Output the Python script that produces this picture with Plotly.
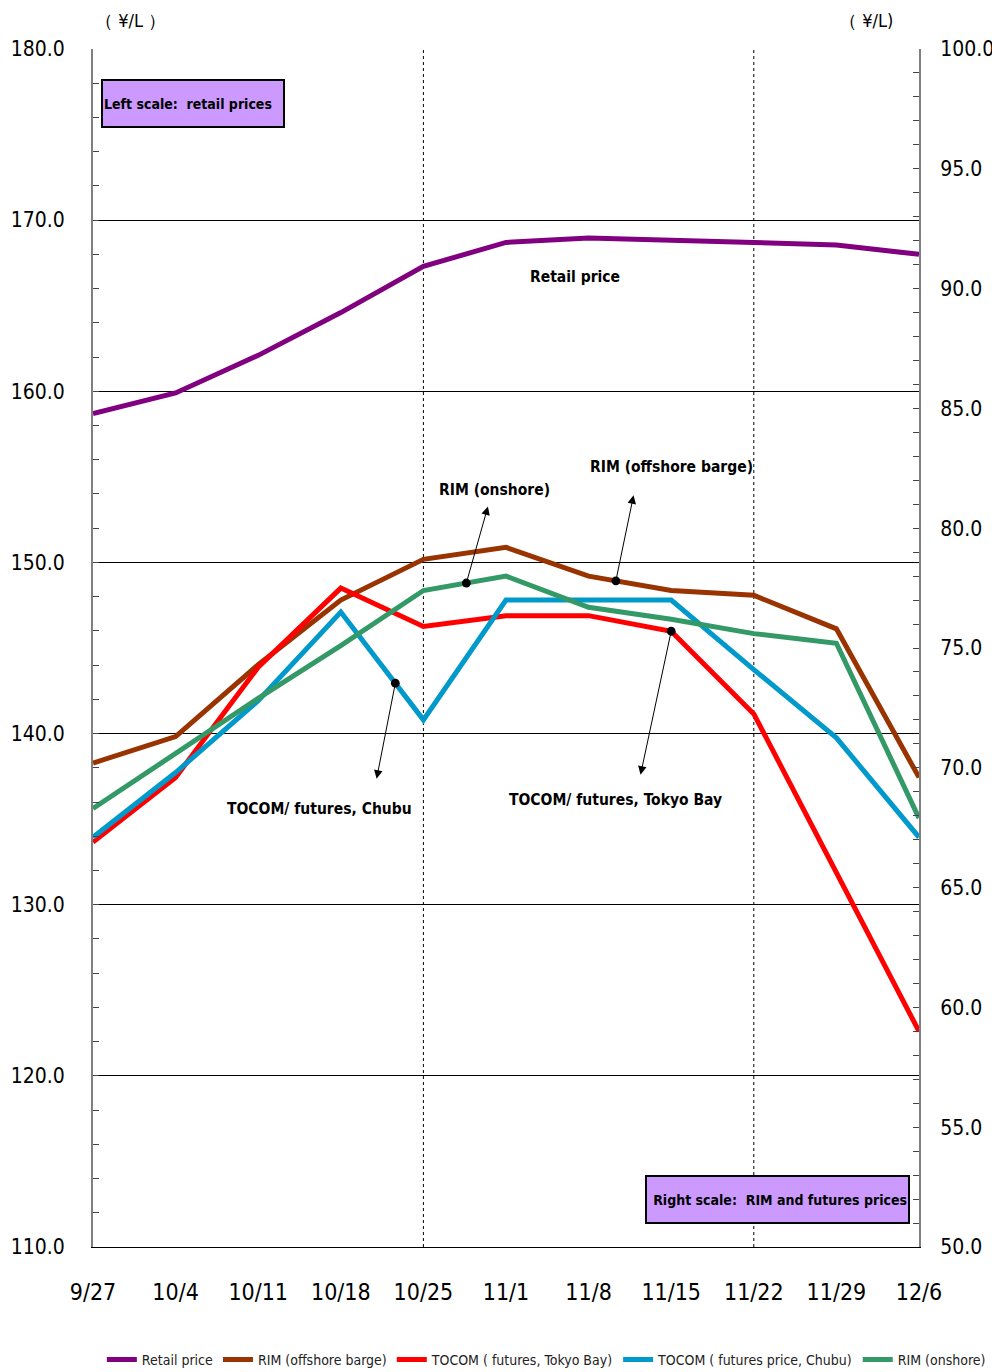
import plotly.graph_objects as go
import numpy as np

dates = ["9/27", "10/4", "10/11", "10/18", "10/25", "11/1", "11/8", "11/15", "11/22", "11/29", "12/6"]

retail = [158.7, 159.9, 162.1, 164.6, 167.3, 168.7, 168.95, 168.85, 168.7, 168.55, 168.0]
rim_offshore = [70.2, 71.3, 74.3, 77.0, 78.7, 79.2, 78.0, 77.4, 77.2, 75.8, 69.6]
tocom_tokyo = [66.9, 69.6, 74.2, 77.5, 75.9, 76.35, 76.35, 75.7, 72.25, 65.6, 59.0]
tocom_chubu = [67.1, 69.8, 72.8, 76.5, 72.0, 77.0, 77.0, 77.0, 74.1, 71.25, 67.1]
rim_onshore = [68.3, 70.6, 72.9, 75.1, 77.4, 78.0, 76.7, 76.2, 75.6, 75.2, 67.9]

vgrid_dates = ["10/25", "11/22"]

NARROW = "DejaVu Sans Condensed, Liberation Sans Narrow, Roboto, sans-serif"

fig = go.Figure()
fig.add_trace(go.Scatter(x=dates, y=retail, name="Retail price", mode="lines",
                         line=dict(color="#800080", width=5), yaxis="y"))
fig.add_trace(go.Scatter(x=dates, y=rim_offshore, name="RIM (offshore barge)", mode="lines",
                         line=dict(color="#993300", width=5), yaxis="y2"))
fig.add_trace(go.Scatter(x=dates, y=tocom_tokyo, name="TOCOM ( futures, Tokyo Bay)", mode="lines",
                         line=dict(color="#FF0000", width=5), yaxis="y2"))
fig.add_trace(go.Scatter(x=dates, y=tocom_chubu, name="TOCOM ( futures price, Chubu)", mode="lines",
                         line=dict(color="#0099CC", width=5), yaxis="y2"))
fig.add_trace(go.Scatter(x=dates, y=rim_onshore, name="RIM (onshore)", mode="lines",
                         line=dict(color="#339966", width=5), yaxis="y2"))

for d in vgrid_dates:
    fig.add_shape(type="line", xref="x", yref="paper", x0=d, x1=d, y0=0, y1=1,
                  line=dict(color="black", width=1, dash="dot"), layer="below")

def interp(series, t):
    return float(np.interp(t, np.arange(len(series)), series))

# arrows: (series, position index, dx, dy)
arrows = [
    (rim_onshore, 4.52, 22, -78),
    (rim_offshore, 6.33, 18, -87),
    (tocom_chubu, 3.66, -19, 97),
    (tocom_tokyo, 7.0, -31, 145),
]
for s, t, dx, dy in arrows:
    fig.add_annotation(x=t, y=interp(s, t), xref="x", yref="y2", text="",
                       showarrow=True, ax=dx, ay=dy, arrowside="end+start",
                       arrowhead=6, arrowsize=2.2, startarrowhead=2, startarrowsize=1.7,
                       arrowwidth=1, arrowcolor="black", standoff=0, startstandoff=0)

labels = [
    ("Retail price", 0.5835, 0.8097),
    ("RIM (onshore)", 0.4855, 0.6319),
    ("RIM (offshore barge)", 0.6998, 0.6511),
    ("TOCOM/ futures, Chubu", 0.2748, 0.3656),
    ("TOCOM/ futures, Tokyo Bay", 0.6320, 0.3731),
]
for txt, x, y in labels:
    fig.add_annotation(x=x, y=y, xref="paper", yref="paper", text="<b>" + txt + "</b>",
                       showarrow=False, font=dict(family=NARROW, size=15.5, color="black"),
                       xanchor="center", yanchor="middle")

fig.add_annotation(x=0.0097, y=0.975, xref="paper", yref="paper",
                   text="<b>Left scale:  retail prices</b>", showarrow=False,
                   xanchor="left", yanchor="top", align="left", width=178, height=43,
                   bgcolor="#CC99FF", bordercolor="black", borderwidth=2, borderpad=1,
                   font=dict(family=NARROW, size=14, color="black"))
fig.add_annotation(x=0.6683, y=0.0601, xref="paper", yref="paper",
                   text="<b>Right scale:  RIM and futures prices</b>", showarrow=False,
                   xanchor="left", yanchor="top", align="right", width=259, height=43,
                   bgcolor="#CC99FF", bordercolor="black", borderwidth=2, borderpad=1,
                   font=dict(family=NARROW, size=14, color="black"))

fig.add_annotation(x=0.0448, y=1.0234, xref="paper", yref="paper", text="（ ¥/L ）",
                   showarrow=False, xanchor="center", yanchor="middle",
                   font=dict(family=NARROW, size=18, color="black"))
fig.add_annotation(x=0.9358, y=1.0234, xref="paper", yref="paper", text="（ ¥/L)",
                   showarrow=False, xanchor="center", yanchor="middle",
                   font=dict(family=NARROW, size=18, color="black"))

# page body has an 8px margin, so the figure is sized 8px smaller
fig.update_layout(
    width=992, height=1364,
    margin=dict(l=85, r=81, t=41, b=125, autoexpand=False),
    paper_bgcolor="white", plot_bgcolor="white",
    showlegend=True,
    legend=dict(orientation="h", xref="paper", yref="paper", x=1.087, y=-0.0943,
                xanchor="right", yanchor="middle", font=dict(family=NARROW, size=14, color="#222"),
                itemwidth=30, tracegroupgap=0, bgcolor="rgba(0,0,0,0)"),
    xaxis=dict(type="category", range=[0, 10], showgrid=False, ticks="", automargin=False,
               showline=True, linecolor="black", linewidth=1, mirror=False,
               tickfont=dict(family=NARROW, size=23, color="black"), ticklabelstandoff=24,
               zeroline=False),
    yaxis=dict(range=[110, 180], dtick=10, tickformat=".1f", showgrid=True, gridcolor="black",
               gridwidth=1, ticks="inside", ticklen=6, tickcolor="#444", showline=True,
               linecolor="#808080", linewidth=2, automargin=False,
               minor=dict(dtick=2, ticks="inside", ticklen=6, tickcolor="#444", showgrid=False),
               tickfont=dict(family=NARROW, size=21, color="black"), ticklabelstandoff=22,
               zeroline=False),
    yaxis2=dict(range=[50, 100], dtick=5, tickformat=".1f", overlaying="y", side="right",
                showgrid=False, ticks="inside", ticklen=6, tickcolor="#444", showline=True,
                linecolor="#808080", linewidth=2, automargin=False,
                minor=dict(dtick=1, ticks="inside", ticklen=6, tickcolor="#444", showgrid=False),
                tickfont=dict(family=NARROW, size=21, color="black"), ticklabelstandoff=15,
                zeroline=False),
)

fig.write_html("out.html")
